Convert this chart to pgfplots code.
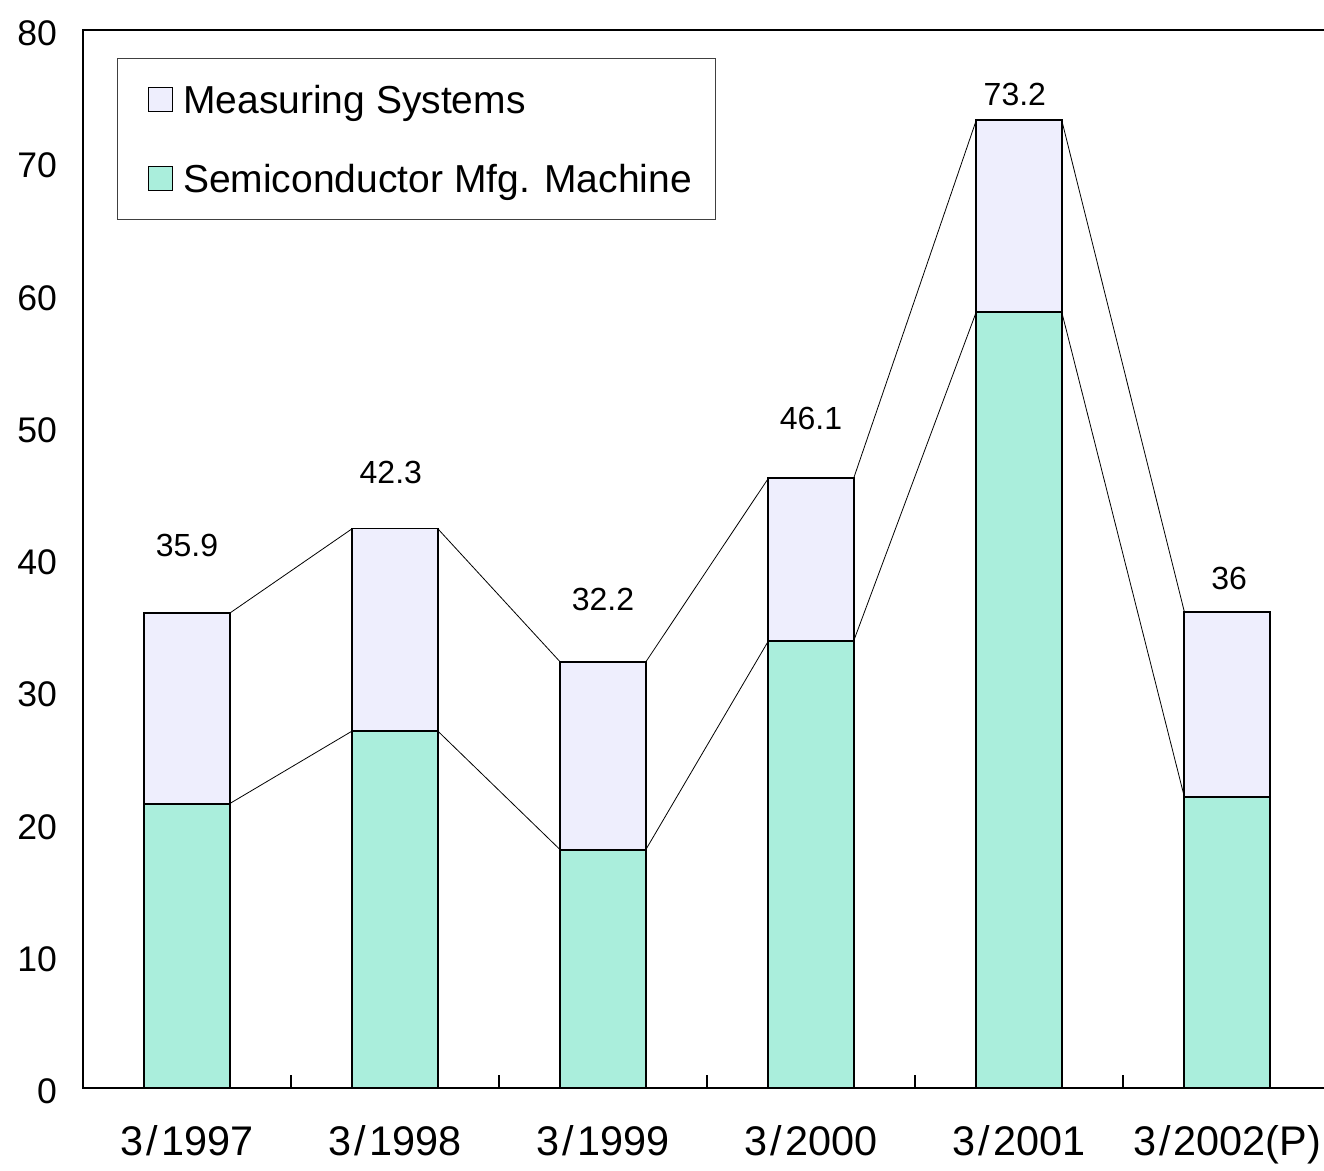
\documentclass[border=0pt]{standalone}
\usepackage{fontspec}
\setmainfont{Liberation Sans}
\usepackage{pgfplots}
\pgfplotsset{compat=1.18}
\definecolor{semi}{RGB}{170,238,220}
\definecolor{meas}{RGB}{238,238,253}
\pgfplotstableread{
x total semi
0 35.9 21.5
1 42.3 27.0
2 32.2 18.0
3 46.1 33.8
4 73.2 58.7
5 36.0 22.0
}\datatable
\begin{document}
\begin{tikzpicture}
\begin{axis}[
  scale only axis, width=624pt, height=529pt,
  xmin=-0.5, xmax=5.5, ymin=0, ymax=80,
  axis line style={line width=0.9pt},
  ytick={0,10,...,80},
  xtick={0,...,5},
  xticklabels={3\kern1.5pt/\kern1.5pt1997,3\kern1.5pt/\kern1.5pt1998,3\kern1.5pt/\kern1.5pt1999,3\kern1.5pt/\kern1.5pt2000,3\kern1.5pt/\kern1.5pt2001,3\kern1.5pt/\kern1.5pt2002(P)},
  minor xtick={0.5,1.5,2.5,3.5,4.5},
  xtick pos=bottom, ytick pos=left,
  tick align=inside,
  major tick length=0pt, minor tick length=6.5pt,
  minor tick style={line width=0.8pt, black},
  /pgf/number format/assume math mode=true,
  yticklabel style={font=\fontsize{17.8}{20}\selectfont, xshift=-9.5pt, yshift=-1.75pt},
  xticklabel style={font=\fontsize{20.7}{24}\selectfont, text height=15pt, text depth=4pt, yshift=-15.4pt},
  legend style={at={(0.0272,0.9735)}, anchor=north west, draw=black!75, line width=0.6pt,
    font=\fontsize{19.5}{23}\selectfont, inner xsep=10pt, inner ysep=7.5pt, row sep=13.5pt,
    nodes={inner sep=2pt, text height=18pt, text depth=4pt},
    /tikz/every odd column/.append style={column sep=3pt}},
  legend cell align=left,
]
\addplot[ybar, bar width=0.41, bar shift=0pt, fill=meas, draw=black, line width=0.9pt,
  legend image code/.code={\path (0pt,0pt); \draw[fill=meas, draw=black, line width=0.7pt] (5pt,-6pt) rectangle (17pt,6pt);}]
  table[x=x, y=total] {\datatable};
\addlegendentry{Measuring Systems}
\addplot[ybar, bar width=0.41, bar shift=0pt, fill=semi, draw=black, line width=0.9pt,
  legend image code/.code={\path (0pt,0pt); \draw[fill=semi, draw=black, line width=0.7pt] (5pt,-6pt) rectangle (17pt,6pt);}]
  table[x=x, y=semi] {\datatable};
\addlegendentry{Semiconductor Mfg. Machine}
\addplot[sharp plot, no markers, black, line width=0.4pt, forget plot] coordinates {
  (0.205,35.9) (0.795,42.3) (1.205,42.3) (1.795,32.2) (2.205,32.2) (2.795,46.1)
  (3.205,46.1) (3.795,73.2) (4.205,73.2) (4.795,36.0)};
\addplot[sharp plot, no markers, black, line width=0.4pt, forget plot] coordinates {
  (0.205,21.5) (0.795,27.0) (1.205,27.0) (1.795,18.0) (2.205,18.0) (2.795,33.8)
  (3.205,33.8) (3.795,58.7) (4.205,58.7) (4.795,22.0)};
\begin{scope}[every node/.style={font=\fontsize{16}{18}\selectfont, inner sep=0pt}]
\node at (axis cs:0,41.0) {35.9};
\node at (axis cs:0.98,46.55) {42.3};
\node at (axis cs:2,36.9) {32.2};
\node at (axis cs:3,50.6) {46.1};
\node at (axis cs:3.98,75.1) {73.2};
\node at (axis cs:5.01,38.5) {36};
\end{scope}
\end{axis}
\pgfresetboundingbox
\path[use as bounding box] ([xshift=-41.5pt,yshift=-41.5pt]current axis.south west) rectangle ([xshift=-3.5pt,yshift=15pt]current axis.north east);
\end{tikzpicture}
\end{document}
